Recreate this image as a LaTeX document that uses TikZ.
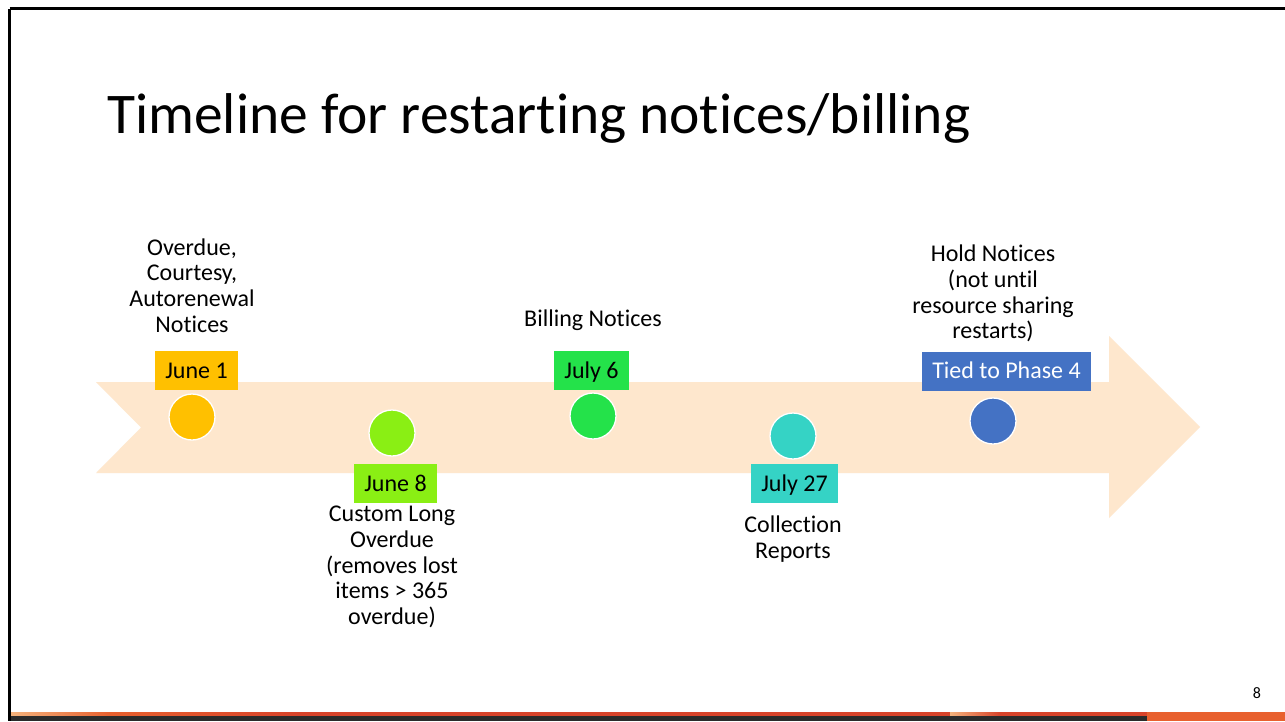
\documentclass[tikz,border=0pt]{standalone}
\usepackage{fontspec}
\setmainfont{Carlito}[Ligatures=NoCommon, Contextuals=NoAlternate, RawFeature={-liga;-clig;-calt}]
\definecolor{bandfill}{HTML}{FEE7CD}
\definecolor{cJuneA}{HTML}{FFC000}
\definecolor{cJuneB}{HTML}{8AEF14}
\definecolor{cJulyA}{HTML}{24E24A}
\definecolor{cJulyB}{HTML}{35D3C5}
\definecolor{cPhase}{HTML}{4472C4}
\definecolor{stripDark}{HTML}{2B2B2B}
\definecolor{stripRed}{HTML}{D8432A}
\definecolor{stripLight}{HTML}{F4B27C}
\definecolor{stripOrange}{HTML}{E8602E}
\begin{document}
\begin{tikzpicture}[x=1pt,y=-1pt,
  every node/.style={font=\fontsize{24}{25.8}\selectfont, inner sep=0pt},
  datebox/.style={minimum height=39pt, inner xsep=10.5pt, text height=18pt, text depth=3pt, text=black},
  dot/.style={circle, minimum size=46pt, draw=white, line width=1.3pt},
  note/.style={align=center}]
\useasboundingbox (0,0) rectangle (1285,721);
\fill[white] (0,0) rectangle (1285,721);

% slide frame
\draw[black, line width=3pt] (9.5,8.5) -- (1285,8.5);
\draw[black, line width=3pt] (9.5,8.5) -- (9.5,721);

% decorative strip along the bottom edge
\fill[stripDark] (11,712) rectangle (1285,721);
\shade[left color=stripLight, right color=stripOrange] (11,712) rectangle (110,715.5);
\shade[left color=stripOrange, right color=stripRed] (110,712) rectangle (300,715.5);
\fill[stripRed] (300,712) rectangle (950,715.5);
\shade[left color=stripLight, right color=stripRed] (950,712) rectangle (1000,715.5);
\fill[stripRed] (1000,712) rectangle (1147,715.5);
\fill[stripOrange] (1147,712) rectangle (1285,721);

% title
\node[font=\fontsize{57.5}{62}\selectfont, anchor=base west] (title) at (107,133)
  {Timeline for restarting notices/billing};

% timeline band
\fill[bandfill] (96,382) -- (1109,382) -- (1109,336) -- (1200,427) -- (1109,518)
  -- (1109,473) -- (96,473) -- (141,427.5) -- cycle;

% milestones
\node[dot, fill=cJuneA] (d1) at (192,417) {};
\node[dot, fill=cJuneB] (d2) at (392,433) {};
\node[dot, fill=cJulyA] (d3) at (593,416) {};
\node[dot, fill=cJulyB] (d4) at (793,436) {};
\node[dot, fill=cPhase] (d5) at (993,421) {};

\node[datebox, fill=cJuneA] (b1) at (196.5,370.5) {June 1};
\node[datebox, fill=cJuneB] (b2) at (395.5,483.5) {June 8};
\node[datebox, fill=cJulyA] (b3) at (591.5,370.5) {July 6};
\node[datebox, fill=cJulyB] (b4) at (794.5,483.5) {July 27};
\node[datebox, fill=cPhase, text=white] (b5) at (1006.5,371) {Tied to Phase 4};

% descriptions
\node[note] (t1) at (192,285.5) {Overdue,\\Courtesy,\\Autorenewal\\Notices};
\node[note] (t2) at (392,567) {Custom Long\\Overdue\\(removes lost\\items > 365\\overdue)};
\node[note] (t3) at (593,320) {Billing Notices};
\node[note] (t4) at (793,539) {Collection\\Reports};
\node[note] (t5) at (993,293.5) {Hold Notices\\(not until\\resource sharing\\restarts)};

% slide number
\node[font=\fontsize{16}{18}\selectfont] (pg) at (1257,693) {8};
\end{tikzpicture}
\end{document}
